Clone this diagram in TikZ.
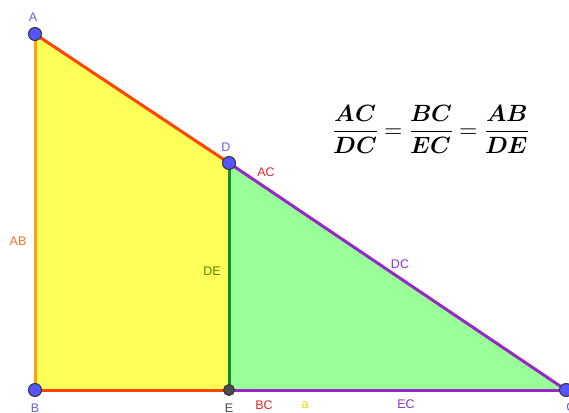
\documentclass[tikz,border=0pt]{standalone}
\usepackage{fontspec}
\setmainfont{Liberation Sans}
\usepackage{unicode-math}
\setmathfont{Latin Modern Math}
\definecolor{yfill}{RGB}{255,255,90}
\definecolor{gfill}{RGB}{153,255,153}
\definecolor{orab}{RGB}{255,160,20}
\definecolor{redl}{RGB}{255,69,0}
\definecolor{greenl}{RGB}{20,140,50}
\definecolor{purl}{RGB}{150,40,200}
\definecolor{ptblue}{RGB}{85,85,255}
\definecolor{lblblue}{RGB}{100,100,230}
\definecolor{lblred}{RGB}{220,40,40}
\definecolor{lblorange}{RGB}{230,120,40}
\definecolor{lblgreen}{RGB}{90,140,0}
\definecolor{lblpurple}{RGB}{140,50,210}
\definecolor{lblyellow}{RGB}{230,220,0}
\tikzset{
  seg/.style={line width=3pt},
  pt/.style={circle,draw=black!80,fill=ptblue,line width=1pt,minimum size=13pt,inner sep=0pt},
  ptdark/.style={circle,draw=black!80,fill=black!70,line width=1pt,minimum size=11pt,inner sep=0pt},
  lbl/.style={font=\fontsize{12.5}{14}\selectfont,inner sep=0pt}
}
\begin{document}
\begin{tikzpicture}[x=1pt,y=-1pt]
\useasboundingbox (0,0) rectangle (569,412);
\clip (0,0) rectangle (569,412);
\coordinate (A) at (35,34);
\coordinate (B) at (35,390);
\coordinate (D) at (229,163);
\coordinate (E) at (229,390);
\coordinate (C) at (566,390);
\fill[yfill] (A) -- (B) -- (E) -- (D) -- cycle;
\fill[gfill] (D) -- (E) -- (C) -- cycle;
\draw[seg,orab] (A) -- (B);
\draw[seg,redl] (A) -- (D);
\draw[seg,redl] (B) -- (E);
\draw[seg,purl] (D) -- (C);
\draw[seg,purl] (E) -- (C);
\draw[seg,greenl] (D) -- (E);
\node[pt] (pA) at (A) {};
\node[pt] (pB) at (B) {};
\node[pt] (pD) at (D) {};
\node[ptdark] (pE) at (E) {};
\node[pt] (pC) at (C) {};
\node[lbl,text=lblblue] (lA) at (33,17) {A};
\node[lbl,text=lblblue] (lB) at (35,408) {B};
\node[lbl,text=lblblue] (lD) at (226,147) {D};
\node[lbl,text=black!70] (lE) at (229,408) {E};
\node[lbl,text=lblblue] (lC) at (571,407) {C};
\node[lbl,text=lblred] (lAC) at (266,172) {AC};
\node[lbl,text=lblorange] (lAB) at (18,241) {AB};
\node[lbl,text=lblgreen] (lDE) at (212,271) {DE};
\node[lbl,text=lblpurple] (lDC) at (400,264) {DC};
\node[lbl,text=lblred] (lBC) at (264,405) {BC};
\node[lbl,text=lblyellow] (la) at (305,405) {a};
\node[lbl,text=lblpurple] (lEC) at (406,404) {EC};
\node[inner sep=0pt,font=\fontsize{23.5}{26}\selectfont] (eq) at (431,129)
  {$\dfrac{\symbfit{AC}}{\symbfit{DC}}=\dfrac{\symbfit{BC}}{\symbfit{EC}}=\dfrac{\symbfit{AB}}{\symbfit{DE}}$};
\end{tikzpicture}
\end{document}
